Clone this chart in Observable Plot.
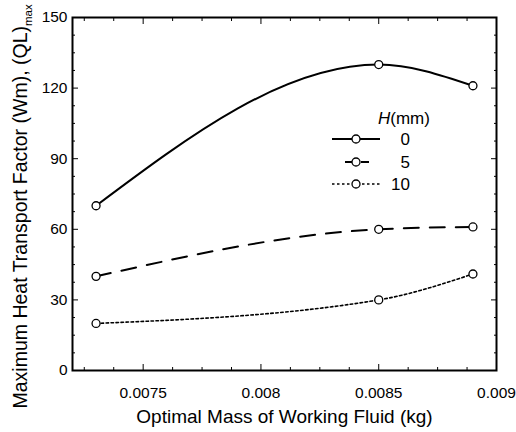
<!DOCTYPE html>
<html>
<head>
<meta charset="utf-8">
<script src="https://cdn.jsdelivr.net/npm/d3@7"></script>
<script src="https://cdn.jsdelivr.net/npm/@observablehq/plot@0.6"></script>
<style>
  html, body { margin: 0; padding: 0; background: white; }
</style>
</head>
<body>
<div id="chart"></div>
<script>
const xValues = [0.0073, 0.0085, 0.0089];
const h0 = [70, 130, 121];
const h5 = [40, 60, 61];
const h10 = [20, 30, 41];
const seriesNames = ["0", "5", "10"];
const xTicks = [0.0075, 0.008, 0.0085, 0.009];
const xTickLabels = ["0.0075", "0.008", "0.0085", "0.009"];
const xMinor = [0.00725, 0.007375, 0.007625, 0.00775, 0.007875, 0.008125, 0.00825, 0.008375, 0.008625, 0.00875, 0.008875];
const yTicks = [0, 30, 60, 90, 120, 150];
const yMinor = [7.5, 15, 22.5, 37.5, 45, 52.5, 67.5, 75, 82.5, 97.5, 105, 112.5, 127.5, 135, 142.5];
const xTitle = "Optimal Mass of Working Fluid (kg)";
const yTitle = "Maximum Heat Transport Factor (Wm), (QL)";
const yTitleSub = "max";
const legendTitle = "(mm)";

const rows = (vals, h) => xValues.map((x, i) => ({x, y: vals[i], h}));
const d0 = rows(h0, seriesNames[0]);
const d5 = rows(h5, seriesNames[1]);
const d10 = rows(h10, seriesNames[2]);
const all = [...d0, ...d5, ...d10];

const font = "'Liberation Sans', Arial, Helvetica, sans-serif";
const xfmt = d => xTickLabels[xTicks.indexOf(d)];

const chart = Plot.plot({
  width: 516,
  height: 432,
  marginLeft: 72,
  marginRight: 20,
  marginTop: 17,
  marginBottom: 62,
  style: {fontFamily: font, fontSize: "15.5px", color: "black", background: "white", overflow: "visible"},
  x: {domain: [0.0072, 0.009]},
  y: {domain: [0, 150]},
  marks: [
    Plot.axisY(yTicks, {anchor: "left", tickSize: -6, tickPadding: 11, tickFormat: d => String(d), label: null}),
    Plot.axisY(yMinor, {anchor: "left", tickSize: -3, tickFormat: () => "", label: null}),
    Plot.axisY(yTicks, {anchor: "right", tickSize: -6, tickFormat: () => "", label: null}),
    Plot.axisY(yMinor, {anchor: "right", tickSize: -3, tickFormat: () => "", label: null}),
    Plot.axisX(xTicks, {anchor: "bottom", tickSize: -6, tickPadding: 22, tickFormat: xfmt, label: null}),
    Plot.axisX(xMinor, {anchor: "bottom", tickSize: -3, tickFormat: () => "", label: null}),
    Plot.axisX(xTicks, {anchor: "top", tickSize: -6, tickFormat: () => "", label: null}),
    Plot.axisX(xMinor, {anchor: "top", tickSize: -3, tickFormat: () => "", label: null}),
    Plot.frame({stroke: "black", strokeWidth: 2}),
    Plot.line(d0, {x: "x", y: "y", curve: "monotone-x", stroke: "black", strokeWidth: 2}),
    Plot.line(d5, {x: "x", y: "y", curve: "monotone-x", stroke: "black", strokeWidth: 2, strokeDasharray: "15,11"}),
    Plot.line(d10, {x: "x", y: "y", curve: "monotone-x", stroke: "black", strokeWidth: 1.6, strokeDasharray: "2.5,2.5"}),
    Plot.dot(all, {x: "x", y: "y", r: 4, stroke: "black", fill: "white", strokeWidth: 1.3}),
    Plot.text([xTitle], {text: d => d, frameAnchor: "bottom", dy: 52, fontSize: 19}),
    Plot.text([yTitle], {text: d => d, frameAnchor: "bottom-left", textAnchor: "start", rotate: -90, dx: -46, dy: 38, fontSize: 19.5})
  ]
});

document.getElementById("chart").appendChild(chart);

// subscript on the y title
d3.select(chart).selectAll("text").filter(function() { return this.textContent === yTitle; })
  .append("tspan").attr("font-size", 11.5).attr("dy", "0.45em").text(yTitleSub);

// legend (inside plot)
const svg = d3.select(chart);
const lg = svg.append("g").attr("font-family", font).attr("fill", "black");
const t = lg.append("text").attr("x", 378).attr("y", 118).attr("dy", "0.35em")
  .attr("text-anchor", "start").attr("font-size", 17);
t.append("tspan").attr("font-style", "italic").text("H");
t.append("tspan").text(legendTitle);
const entries = [
  {name: seriesNames[0], y: 139, x1: 332, x2: 380, dash: null, w: 2},
  {name: seriesNames[1], y: 162, x1: 345, x2: 369, dash: "8,8", w: 2},
  {name: seriesNames[2], y: 184, x1: 332, x2: 380, dash: "2.5,2.5", w: 1.6}
];
for (const e of entries) {
  lg.append("line").attr("x1", e.x1).attr("x2", e.x2).attr("y1", e.y).attr("y2", e.y)
    .attr("stroke", "black").attr("stroke-width", e.w).attr("stroke-dasharray", e.dash);
  lg.append("circle").attr("cx", 356).attr("cy", e.y).attr("r", 4)
    .attr("fill", "white").attr("stroke", "black").attr("stroke-width", 1.3);
  lg.append("text").attr("x", 410).attr("y", e.y).attr("dy", "0.35em").attr("text-anchor", "end")
    .attr("font-size", 17).text(e.name);
}
</script>
</body>
</html>
